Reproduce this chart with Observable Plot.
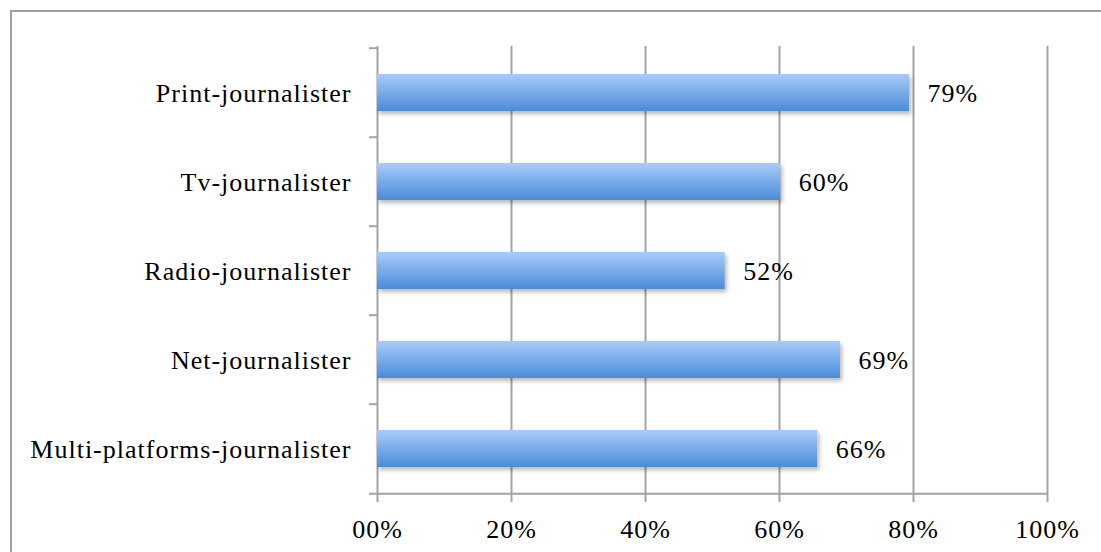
<!DOCTYPE html>
<html>
<head>
<meta charset="utf-8">
<script src="https://cdn.jsdelivr.net/npm/d3@7"></script>
<script src="https://cdn.jsdelivr.net/npm/@observablehq/plot@0.6"></script>
<style>
  html, body { margin: 0; padding: 0; background: #fff; }
  #wrap { position: relative; width: 1101px; height: 552px; overflow: hidden; }
  #frame { position: absolute; left: 10px; top: 10px; width: 1200px; height: 700px;
           border-top: 2px solid #a0a0a0; border-left: 2px solid #a0a0a0; pointer-events: none; }
  #chart { position: absolute; left: 0; top: 0; }
  #chart svg text { letter-spacing: 1px; }
</style>
</head>
<body>
<div id="wrap"><div id="chart"></div><div id="frame"></div></div>
<script>
const categories = ["Print-journalister", "Tv-journalister", "Radio-journalister", "Net-journalister", "Multi-platforms-journalister"];
const values = [79.4, 60.2, 51.9, 69.1, 65.7];
const valueLabels = ["79%", "60%", "52%", "69%", "66%"];
const xTicks = [0, 20, 40, 60, 80, 100];
const xTickLabels = ["00%", "20%", "40%", "60%", "80%", "100%"];

const data = categories.map((c, i) => ({category: c, value: values[i], label: valueLabels[i]}));

const W = 1101, H = 552, mT = 46, mB = 58, mL = 377, mR = 54;
const step = (H - mT - mB) / categories.length;
const gray = "#a3a3a3";
const font = "'Liberation Serif', 'Times New Roman', serif";

const defs = () => {
  const g = d3.create("svg:defs");
  const grad = g.append("linearGradient").attr("id", "barGrad").attr("x1", 0).attr("y1", 0).attr("x2", 0).attr("y2", 1);
  grad.append("stop").attr("offset", "0%").attr("stop-color", "#a9cbfa");
  grad.append("stop").attr("offset", "100%").attr("stop-color", "#4a8cd8");
  const f = g.append("filter").attr("id", "barShadow").attr("x", "-10%").attr("y", "-20%").attr("width", "130%").attr("height", "160%");
  f.append("feDropShadow").attr("dx", 2).attr("dy", 3).attr("stdDeviation", 2).attr("flood-color", "#000").attr("flood-opacity", 0.28);
  return g.node();
};

const chart = Plot.plot({
  width: W, height: H,
  marginTop: mT, marginBottom: mB, marginLeft: mL, marginRight: mR,
  style: {fontFamily: font, fontSize: "26px", color: "#000", background: "transparent", overflow: "visible"},
  x: {domain: [0, 100], axis: null, label: null},
  y: {domain: categories, paddingInner: 0.585, paddingOuter: 0.2925, axis: null, label: null},
  marks: [
    defs,
    Plot.ruleX(xTicks.slice(1), {stroke: gray, strokeWidth: 2}),
    Plot.ruleX([0], {stroke: gray, strokeWidth: 2}),
    Plot.ruleY(categories, {y: d => d, x1: -1.2, x2: 0, dy: -step / 2, stroke: gray, strokeWidth: 2}),
    Plot.ruleY(categories.slice(-1), {y: d => d, x1: -1.2, x2: 100, dy: step / 2, stroke: gray, strokeWidth: 2}),
    Plot.axisX(xTicks, {tickSize: 8, tickPadding: 17, label: null, tickFormat: (d, i) => xTickLabels[i], stroke: gray, strokeWidth: 2, fill: "#000", fontSize: 26}),
    Plot.barX(data, {x1: 0, x2: "value", y: "category", fill: "url(#barGrad)"}),
    Plot.text(data, {x: "value", y: "category", text: "label", dx: 18, dy: 1, textAnchor: "start", fill: "#000", fontSize: 26}),
    Plot.text(categories, {x: 0, y: d => d, text: d => d, dx: -26, dy: 1, textAnchor: "end", fill: "#000", fontSize: 26})
  ]
});

d3.select(chart).selectAll("g[aria-label=bar]").attr("filter", "url(#barShadow)");
document.getElementById("chart").appendChild(chart);
</script>
</body>
</html>
